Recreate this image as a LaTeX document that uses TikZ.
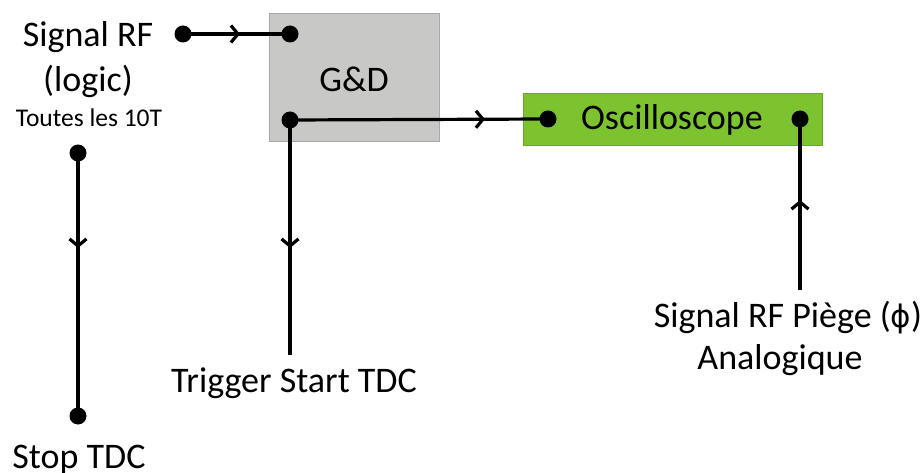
\documentclass[tikz,border=0pt]{standalone}
\usepackage{fontspec}
\setmainfont{Carlito}
\newfontfamily\phifont{DejaVu Sans}
\usetikzlibrary{arrows.meta,decorations.markings}
\definecolor{gdgray}{HTML}{C8C8C6}
\definecolor{gdedge}{HTML}{A9A9A9}
\definecolor{oscgreen}{HTML}{7DC32F}
\tikzset{
  dotnode/.style={circle,fill=black,inner sep=0pt,minimum size=17pt},
  wire/.style={line width=3.2pt},
  midarrow/.style={postaction={decorate},decoration={markings,
    mark=at position #1 with {\arrow{Straight Barb[length=7pt,width=17pt]}}}},
  bigtext/.style={anchor=base,inner sep=0pt,font=\fontsize{36}{42}\selectfont},
  smalltext/.style={anchor=base,inner sep=0pt,font=\fontsize{25.5}{30}\selectfont},
  boxnode/.style={rectangle,inner sep=0pt,line width=0.8pt}
}
\begin{document}
\begin{tikzpicture}[x=1pt,y=-1pt]
\fill[white] (0,0) rectangle (922,473);
\path[use as bounding box] (0,0) rectangle (922,473);
% boxes
\node[boxnode,fill=gdgray,draw=gdedge,minimum width=170pt,minimum height=128pt] (gd) at (354,77) {};
\node[boxnode,fill=oscgreen,draw=oscgreen!85!black,minimum width=299pt,minimum height=52pt] (osc) at (672.5,119) {};
% labels
\node[bigtext] (gdlabel) at (354,92) {G\&D};
\node[bigtext] (osclabel) at (672,130) {Oscilloscope};
\node[bigtext] (sig1) at (88,47) {Signal RF};
\node[bigtext] (sig2) at (88,92) {(logic)};
\node[smalltext] (sig3) at (89,127) {Toutes les 10T};
\node[bigtext] (trig) at (294,392) {Trigger Start TDC};
\node[bigtext] (stop) at (79,468) {Stop TDC};
\node[bigtext] (piege1) at (788,328) {Signal RF Piège ({\phifont\fontsize{31}{36}\selectfont ϕ})};
\node[bigtext] (piege2) at (780,370) {Analogique};
% dots
\node[dotnode] (d1) at (183,34) {};
\node[dotnode] (d2) at (290,34) {};
\node[dotnode] (d3) at (290,120) {};
\node[dotnode] (d4) at (548,119) {};
\node[dotnode] (d5) at (800,119) {};
\node[dotnode] (d6) at (78,153) {};
\node[dotnode] (d7) at (78,416) {};
\coordinate (trigend) at (290,355);
\coordinate (piegeend) at (800,290);
% wires
\draw[wire,midarrow=57pt] (d1.center) -- (d2.center);
\draw[wire,midarrow=195pt] (d3.center) -- (d4.center);
\draw[wire,midarrow=128pt] (d3.center) -- (trigend);
\draw[wire,midarrow=95pt] (d6.center) -- (d7.center);
\draw[wire,midarrow=90pt] (piegeend) -- (d5.center);
\end{tikzpicture}
\end{document}
